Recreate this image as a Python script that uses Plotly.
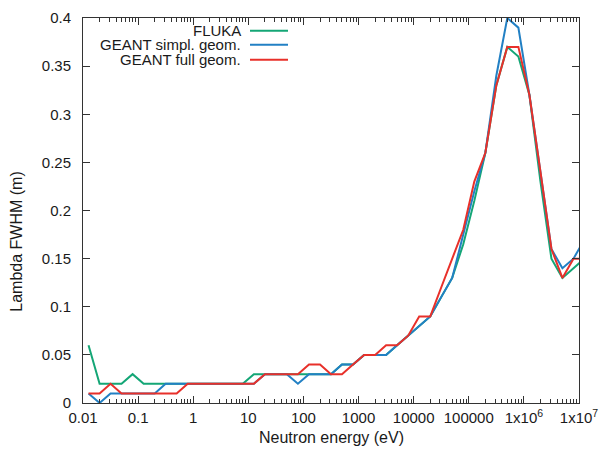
import plotly.graph_objects as go

# Neutron energy bin centres (eV)
energy_ev = [0.0126, 0.02, 0.0316, 0.05, 0.0794,
             0.126, 0.2, 0.316, 0.5, 0.794,
             1.26, 2, 3.16, 5, 7.94,
             12.6, 20, 31.6, 50, 79.4,
             126, 200, 316, 500, 794,
             1260, 2000, 3160, 5000, 7940,
             12600, 20000, 31600, 50000, 79400,
             126000, 200000, 316000, 500000, 794000,
             1.26e6, 2e6, 3.16e6, 5e6, 7.94e6,
             1.26e7]

fluka = [0.06, 0.02, 0.02, 0.02, 0.03,
         0.02, 0.02, 0.02, 0.02, 0.02,
         0.02, 0.02, 0.02, 0.02, 0.02,
         0.03, 0.03, 0.03, 0.03, 0.03,
         0.03, 0.03, 0.03, 0.04, 0.04,
         0.05, 0.05, 0.05, 0.06, 0.07,
         0.08, 0.09, 0.11, 0.13, 0.165,
         0.21, 0.26, 0.33, 0.37, 0.36,
         0.32, 0.23, 0.15, 0.13, 0.14,
         0.15]

geant_simpl = [0.01, 0.00, 0.01, 0.01, 0.01,
               0.01, 0.01, 0.02, 0.02, 0.02,
               0.02, 0.02, 0.02, 0.02, 0.02,
               0.02, 0.03, 0.03, 0.03, 0.02,
               0.03, 0.03, 0.03, 0.04, 0.04,
               0.05, 0.05, 0.05, 0.06, 0.07,
               0.08, 0.09, 0.11, 0.13, 0.175,
               0.22, 0.26, 0.34, 0.40, 0.39,
               0.32, 0.24, 0.16, 0.14, 0.15,
               0.17]

geant_full = [0.01, 0.01, 0.02, 0.01, 0.01,
              0.01, 0.01, 0.01, 0.01, 0.02,
              0.02, 0.02, 0.02, 0.02, 0.02,
              0.02, 0.03, 0.03, 0.03, 0.03,
              0.04, 0.04, 0.03, 0.03, 0.04,
              0.05, 0.05, 0.06, 0.06, 0.07,
              0.09, 0.09, 0.12, 0.15, 0.18,
              0.23, 0.26, 0.33, 0.37, 0.37,
              0.32, 0.24, 0.16, 0.13, 0.15,
              0.15]

series_names = ["FLUKA", "GEANT simpl. geom.", "GEANT full geom."]
series_colors = ["#14a676", "#2280c4", "#e8302a"]

x_tick_vals = [0.01, 0.1, 1, 10, 100, 1000, 10000, 100000, 1e6, 1e7]
x_tick_text = ["0.01", "0.1", "1", "10", "100", "1000", "10000", "100000",
               "1x10<sup>6</sup>", "1x10<sup>7</sup>"]
y_tick_vals = [0, 0.05, 0.1, 0.15, 0.2, 0.25, 0.3, 0.35, 0.4]
y_tick_text = ["0", "0.05", "0.1", "0.15", "0.2", "0.25", "0.3", "0.35", "0.4"]

FONT = "Liberation Sans, Arial, Helvetica, sans-serif"
TXT = "#1a1a1a"

fig = go.Figure()
for name, ys, col in zip(series_names, [fluka, geant_simpl, geant_full], series_colors):
    fig.add_trace(go.Scatter(x=energy_ev, y=ys, mode="lines", name=name,
                             line=dict(color=col, width=2), showlegend=False))

minor_vals = [m * 10 ** e for e in range(-2, 7) for m in range(2, 10)]

fig.update_xaxes(type="log", range=[-2, 7], tickmode="array",
                 tickvals=x_tick_vals, ticktext=x_tick_text,
                 ticks="inside", ticklen=7, tickwidth=1, tickcolor="#333",
                 mirror="allticks", showline=True, linecolor="#333", linewidth=1,
                 showgrid=False, zeroline=False, automargin=False,
                 minor=dict(tickmode="array", tickvals=minor_vals, ticks="inside",
                            ticklen=4, tickcolor="#333", showgrid=False),
                 tickfont=dict(family=FONT, size=15, color=TXT),
                 ticklabelstandoff=1)
fig.update_yaxes(range=[0, 0.4], tickmode="array", tickvals=y_tick_vals,
                 ticktext=y_tick_text,
                 ticks="inside", ticklen=7, tickwidth=1, tickcolor="#333",
                 mirror="allticks", showline=True, linecolor="#333", linewidth=1,
                 showgrid=False, zeroline=False, automargin=False,
                 tickfont=dict(family=FONT, size=15, color=TXT),
                 ticklabelstandoff=8)

# axis titles
fig.add_annotation(text="Neutron energy (eV)", xref="paper", yref="paper",
                   x=0.5, y=-0.09, xanchor="center", yanchor="middle",
                   showarrow=False, font=dict(family=FONT, size=16, color=TXT))
fig.add_annotation(text="Lambda FWHM (m)", xref="paper", yref="paper",
                   x=-0.133, y=0.419, xanchor="center", yanchor="middle",
                   textangle=-90, showarrow=False,
                   font=dict(family=FONT, size=16, color=TXT))

# key (legend) in upper left, text right-aligned with sample line
key_y = [0.967, 0.9305, 0.8915]
for name, col, ky in zip(series_names, series_colors, key_y):
    fig.add_annotation(text=name, xref="paper", yref="paper", x=0.3196, y=ky,
                       xanchor="right", yanchor="middle", showarrow=False,
                       borderpad=0,
                       font=dict(family=FONT, size=15, color=TXT))
    fig.add_shape(type="line", xref="paper", yref="paper", x0=0.3367, x1=0.4133,
                  y0=ky, y1=ky, line=dict(color=col, width=2))

fig.update_layout(width=603, height=451,
                  margin=dict(l=83, r=24, t=18, b=48, pad=0, autoexpand=False),
                  plot_bgcolor="white", paper_bgcolor="white",
                  font=dict(family=FONT, size=15, color=TXT))

fig.write_html("out.html")
